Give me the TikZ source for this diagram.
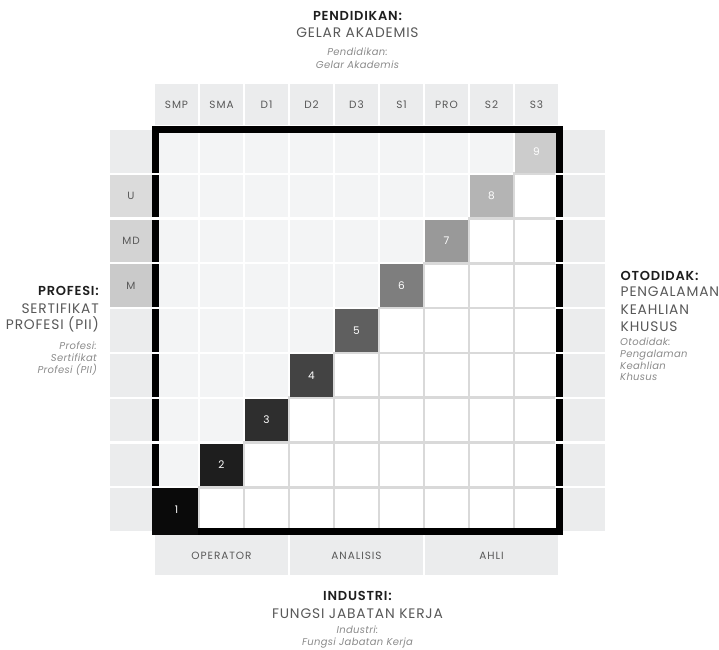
\documentclass[tikz,border=0pt]{standalone}
\usepackage{fontspec}
\setmainfont{Poppins}
\newfontfamily\titlefont{Poppins}[LetterSpace=6, BoldFont={Poppins SemiBold}]
\newfontfamily\cellfont{Poppins}[LetterSpace=9]
\newfontfamily\notefont{Poppins}[LetterSpace=3]
\usetikzlibrary{positioning}

\definecolor{headfill}{HTML}{EBECED}
\definecolor{lightfill}{HTML}{F3F4F5}
\definecolor{gridline}{HTML}{D9D9D9}
\definecolor{txtdark}{HTML}{1E1E1E}
\definecolor{txtmid}{HTML}{585858}
\definecolor{txtsoft}{HTML}{8A8A8A}
\definecolor{diag1}{HTML}{0A0A0A}
\definecolor{diag2}{HTML}{1E1E1E}
\definecolor{diag3}{HTML}{2E2E2E}
\definecolor{diag4}{HTML}{434343}
\definecolor{diag5}{HTML}{5F5F5F}
\definecolor{diag6}{HTML}{7E7E7E}
\definecolor{diag7}{HTML}{999999}
\definecolor{diag8}{HTML}{B4B4B4}
\definecolor{diag9}{HTML}{CCCCCC}
\definecolor{rankU}{HTML}{DBDBDB}
\definecolor{rankMD}{HTML}{D3D3D3}
\definecolor{rankM}{HTML}{CACACA}

\begin{document}
\begin{tikzpicture}[
  x=1pt, y=-1pt,
  whitecell/.style={fill=white, draw=gridline, line width=2.6pt},
  lightcell/.style={fill=lightfill},
  headcell/.style={fill=headfill},
  celllbl/.style={font=\cellfont\fontsize{10.5}{12}\selectfont, text=txtmid},
  numlbl/.style={font=\cellfont\fontsize{10.5}{12}\selectfont, text=white},
  ttlbold/.style={font=\titlefont\fontsize{13}{15}\selectfont\bfseries, text=txtdark, inner sep=0pt},
  ttlgray/.style={font=\titlefont\fontsize{13.8}{15}\selectfont, text=txtmid, inner sep=0pt},
  ttlital/.style={font=\notefont\fontsize{10}{11}\selectfont\itshape, text=txtsoft, inner sep=0pt}
]
  \useasboundingbox (0,0) rectangle (719,649);

  % header row: education levels
  \foreach \lab [count=\c] in {SMP,SMA,D1,D2,D3,S1,PRO,S2,S3} {
    \pgfmathsetmacro\xa{155+45*(\c-1)}
    \fill[headcell] (\xa,84) rectangle ++(43,41);
    \node[celllbl] (edu-\c) at (\xa+21.5,105) {\lab};
  }

  % side columns
  \foreach \r in {1,...,9} {
    \pgfmathsetmacro\ya{130+44.8*(\r-1)}
    \fill[headcell] (110,\ya) rectangle ++(46,42.6);
    \fill[headcell] (559,\ya) rectangle ++(46,42.6);
  }
  \fill[rankU] (110,174.8) rectangle ++(46,42.6);
  \fill[rankMD] (110,219.6) rectangle ++(46,42.6);
  \fill[rankM] (110,264.4) rectangle ++(46,42.6);
  \node[celllbl] (prof-u) at (131,196.1) {U};
  \node[celllbl] (prof-md) at (131,240.9) {MD};
  \node[celllbl] (prof-m) at (131,285.7) {M};

  % grid cells
  \foreach \c in {1,...,9} {
    \foreach \b in {1,...,9} {
      \pgfmathsetmacro\xa{155+45*(\c-1)}
      \pgfmathsetmacro\ya{130+44.8*(9-\b)}
      \ifnum\c>\b
        \filldraw[whitecell] (\xa-1,\ya-1.1) rectangle ++(45,44.8);
      \fi
      \ifnum\c<\b
        \fill[lightcell] (\xa,\ya) rectangle ++(43,42.6);
      \fi
    }
  }

  % diagonal levels
  \foreach \k in {1,...,9} {
    \pgfmathsetmacro\xa{155+45*(\k-1)}
    \pgfmathsetmacro\ya{130+44.8*(9-\k)}
    \fill[diag\k] (\xa,\ya) rectangle ++(43,42.6);
  }

  % thick frame, cut by the row gaps
  \draw[line width=7pt] (155.5,129.5) rectangle (559.5,531.5);
  \foreach \r in {1,...,8} {
    \pgfmathsetmacro\yg{130+44.8*\r-1.1}
    \fill[white] (151,\yg-1.1) rectangle (160,\yg+1.1);
    \fill[white] (555,\yg-1.1) rectangle (564,\yg+1.1);
  }
  \fill[diag1] (152,488.4) rectangle (198,535);

  \foreach \k in {1,...,9} {
    \pgfmathsetmacro\xc{155+45*(\k-1)+21.5}
    \pgfmathsetmacro\yc{130+44.8*(9-\k)+21.3}
    \node[numlbl] (lvl-\k) at (\xc,\yc) {\k};
  }

  % bottom row: job functions
  \foreach \lab [count=\k] in {OPERATOR,ANALISIS,AHLI} {
    \pgfmathsetmacro\xa{155+135*(\k-1)}
    \fill[headcell] (\xa,535) rectangle ++(133,40);
    \node[celllbl] (job-\k) at (\xa+66.5,556) {\lab};
  }

  % axis titles
  \node[ttlbold, anchor=base] (pend-a) at (357.5,20.5) {PENDIDIKAN:};
  \node[ttlgray, anchor=base] (pend-b) at (357.5,37) {GELAR AKADEMIS};
  \node[ttlital, anchor=base] (pend-c) at (357.5,55.3) {Pendidikan:};
  \node[ttlital, anchor=base] (pend-d) at (357.5,68.3) {Gelar Akademis};

  \node[ttlbold, anchor=base east] (prof-a) at (99,295) {PROFESI:};
  \node[ttlgray, anchor=base east] (prof-b) at (99,313.3) {SERTIFIKAT};
  \node[ttlgray, anchor=base east] (prof-c) at (99,329.5) {PROFESI (PII)};
  \node[ttlital, anchor=base east] (prof-d) at (97,349.3) {Profesi:};
  \node[ttlital, anchor=base east] (prof-e) at (97,361.5) {Sertifikat};
  \node[ttlital, anchor=base east] (prof-f) at (97,373.5) {Profesi (PII)};

  \node[ttlbold, anchor=base west] (oto-a) at (620.5,280) {OTODIDAK:};
  \node[ttlgray, anchor=base west] (oto-b) at (620.5,296.7) {PENGALAMAN};
  \node[ttlgray, anchor=base west] (oto-c) at (620.5,314.3) {KEAHLIAN};
  \node[ttlgray, anchor=base west] (oto-d) at (620.5,331.7) {KHUSUS};
  \node[ttlital, anchor=base west] (oto-e) at (620,345) {Otodidak:};
  \node[ttlital, anchor=base west] (oto-f) at (620,357.3) {Pengalaman};
  \node[ttlital, anchor=base west] (oto-g) at (620,369) {Keahlian};
  \node[ttlital, anchor=base west] (oto-h) at (620,380.7) {Khusus};

  \node[ttlbold, anchor=base] (ind-a) at (357.5,600) {INDUSTRI:};
  \node[ttlgray, anchor=base] (ind-b) at (357.5,618.5) {FUNGSI JABATAN KERJA};
  \node[ttlital, anchor=base] (ind-c) at (357.5,633.5) {Industri:};
  \node[ttlital, anchor=base] (ind-d) at (357.5,645) {Fungsi Jabatan Kerja};
\end{tikzpicture}
\end{document}
